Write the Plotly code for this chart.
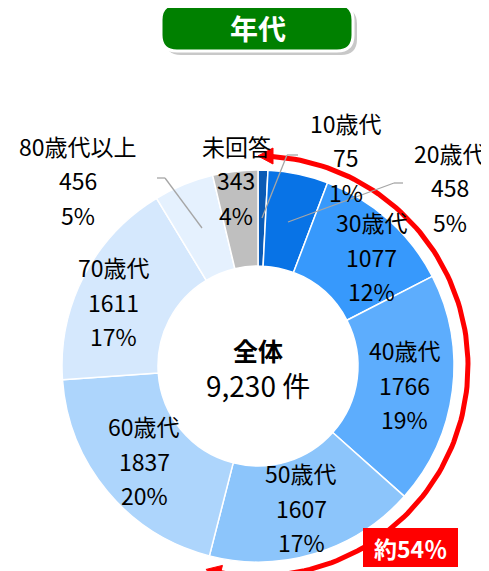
import math
import plotly.graph_objects as go

# ---- data ----
categories = ["10歳代", "20歳代", "30歳代", "40歳代", "50歳代", "60歳代", "70歳代", "80歳代以上", "未回答"]
counts = [75, 458, 1077, 1766, 1607, 1837, 1611, 456, 343]
colors = ["#0B5BB5", "#0873E6", "#3799FC", "#5DADFD", "#8CC5FB", "#ADD5FC", "#D5E8FD", "#E5F1FE", "#BFBFBF"]
title_text = "年代"
center_title = "全体"
center_unit = "件"
bracket_label = "約54％"
bracket_categories = ["10歳代", "20歳代", "30歳代", "40歳代", "50歳代"]

total = sum(counts)
pcts = [round(v / total * 100) for v in counts]

# ---- layout geometry (pixels of the reference picture) ----
W, H = 489, 571
OFF = 8  # page body margin shifts the figure; work in reference pixel coordinates
cx, cy = 258, 366
R_OUT, R_IN = 196, 100
R_LAB = 148
LINE = 34.5
FONT = "Noto Sans CJK JP"
FS = 23

fig = go.Figure()

fig.add_trace(go.Pie(
    labels=categories, values=counts, sort=False, direction="clockwise", rotation=0,
    hole=R_IN / R_OUT, textinfo="none", hoverinfo="label+value+percent",
    marker=dict(colors=colors, line=dict(color="white", width=1.5)),
    domain=dict(x=[(cx - R_OUT - OFF) / W, (cx + R_OUT - OFF) / W],
                y=[1 - (cy + R_OUT - OFF) / H, 1 - (cy - R_OUT - OFF) / H]),
    showlegend=False,
))

# ---- red bracket arc (share of bracket categories) ----
frac = sum(counts[categories.index(c)] for c in bracket_categories) / total
R_ARC = 210
th_end = frac * 2 * math.pi
head = 14 / R_ARC
n = 120
xs, ys = [], []
for i in range(n + 1):
    t = head + (th_end - 2 * head) * i / n
    xs.append(cx + R_ARC * math.sin(t))
    ys.append(cy - R_ARC * math.cos(t))
fig.add_trace(go.Scatter(x=xs, y=ys, mode="lines", line=dict(color="#FF0000", width=5),
                         hoverinfo="skip", showlegend=False))

def arrow(theta, direction):
    tx, ty = cx + R_ARC * math.sin(theta), cy - R_ARC * math.cos(theta)
    dx, dy = math.cos(theta) * direction, math.sin(theta) * direction
    bx, by = tx - dx * 15, ty - dy * 15
    px, py = -dy, dx
    pts = [(tx, ty), (bx + px * 8, by + py * 8), (bx - px * 8, by - py * 8)]
    fig.add_trace(go.Scatter(x=[p[0] for p in pts] + [tx], y=[p[1] for p in pts] + [ty],
                             mode="lines", fill="toself", fillcolor="#FF0000",
                             line=dict(color="#FF0000", width=1), hoverinfo="skip", showlegend=False))

arrow(0, -1)
arrow(th_end, 1)

shapes = []
# red box label
shapes.append(dict(type="rect", xref="x", yref="y", x0=363, x1=458, y0=528, y1=567,
                   fillcolor="#FF0000", line=dict(width=0), layer="above"))

# title pill
def pill(x0, x1, y0, y1, r):
    return (f"M{x0+r},{y0} L{x1-r},{y0} Q{x1},{y0} {x1},{y0+r} L{x1},{y1-r} Q{x1},{y1} {x1-r},{y1} "
            f"L{x0+r},{y1} Q{x0},{y1} {x0},{y1-r} L{x0},{y0+r} Q{x0},{y0} {x0+r},{y0} Z")
shapes.append(dict(type="path", xref="x", yref="y", path=pill(165, 357, 8, 55, 16),
                   fillcolor="#C8C8C8", line=dict(width=0), layer="above"))
shapes.append(dict(type="path", xref="x", yref="y", path=pill(161, 353, 4, 51, 16),
                   fillcolor="#008000", line=dict(color="white", width=3), layer="above"))

# leader lines
leader = dict(color="#A6A6A6", width=1.3)
for pts in [[(298, 155), (287, 155), (262, 218)],
            [(403, 183), (394, 183), (288, 222)],
            [(157, 178), (165, 178), (202, 228)]]:
    for (a, b) in zip(pts[:-1], pts[1:]):
        shapes.append(dict(type="line", xref="x", yref="y", x0=a[0], y0=a[1], x1=b[0], y1=b[1],
                           line=leader, layer="above"))

annotations = []

def add_text(x, y, text, size=FS, color="black", bold=False):
    if bold:
        text = f"<b>{text}</b>"
    annotations.append(dict(x=x, y=y, xref="x", yref="y", text=text, showarrow=False,
                            font=dict(family=FONT, size=size, color=color),
                            xanchor="center", yanchor="middle"))

def add_block(x, y_mid, i):
    add_text(x, y_mid - LINE, categories[i])
    add_text(x, y_mid, str(counts[i]))
    add_text(x, y_mid + LINE, f"{pcts[i]}%")

# inside labels at slice mid-angle
nudges = {"30歳代": (15, 1), "70歳代": (-13, 4)}
cum = 0
for i, v in enumerate(counts):
    mid = (cum + v / 2) / total * 2 * math.pi
    cum += v
    if categories[i] in ("10歳代", "20歳代", "80歳代以上", "未回答"):
        continue
    dx, dy = nudges.get(categories[i], (0, 0))
    add_block(cx + R_LAB * math.sin(mid) + dx, cy - R_LAB * math.cos(mid) + dy, i)

# outside labels
add_block(346, 157, 0)
add_block(450, 187, 1)
add_block(78, 180, 7)
add_block(236, 180, 8)

# center
add_text(cx, 350, center_title, size=25, bold=True)
add_text(cx, 385, f"{total:,} {center_unit}", size=28)

# title and bracket label
add_text(258, 28, title_text, size=28, color="white", bold=True)
add_text(410, 548, bracket_label, size=23, color="white", bold=True)

fig.update_layout(
    width=W, height=H, margin=dict(l=0, r=0, t=0, b=0),
    paper_bgcolor="white", plot_bgcolor="rgba(0,0,0,0)",
    xaxis=dict(range=[OFF, W + OFF], visible=False, fixedrange=True, domain=[0, 1]),
    yaxis=dict(range=[H + OFF, OFF], visible=False, fixedrange=True, domain=[0, 1]),
    shapes=shapes, annotations=annotations, showlegend=False,
)

fig.write_html("out.html")
